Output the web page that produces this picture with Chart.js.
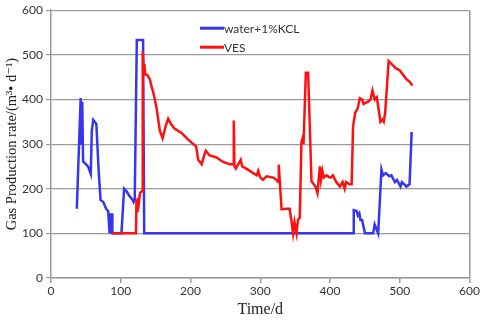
<!DOCTYPE html>
<html>
<head>
<meta charset="utf-8">
<script src="https://cdn.jsdelivr.net/npm/chart.js@4"></script>
<style>
  html, body { margin: 0; padding: 0; background: #fff; }
  #wrap { width: 481px; height: 322px; }
</style>
</head>
<body>
<div id="wrap"><canvas id="myChart" width="481" height="322"></canvas></div>
<script>
let xTicks = [0, 100, 200, 300, 400, 500, 600];
let yTicks = [0, 100, 200, 300, 400, 500, 600];

let blueLabel = "water+1%KCL";
let blueT = [37, 42.5, 43.5, 44.8, 46, 50, 53, 57, 58.5, 60.6, 65, 68, 71, 75, 79, 82, 84, 85, 86, 87.5, 88,
  101, 104.8, 108, 112, 117, 118.5, 120, 123, 132, 133.6, 433, 434, 438, 440, 442, 443.7, 446, 450,
  461.8, 464, 469, 473.7, 476, 480, 485, 488, 493, 496, 501, 503, 509.6, 514, 517];
let blueY = [155, 403, 298, 395, 261, 255, 250, 233, 330, 354, 345, 250, 175, 170, 155, 150, 100, 145, 100, 145, 100,
  100, 200, 195, 185, 175, 170, 175, 533, 533, 100, 100, 152, 150, 140, 145, 130, 130, 100,
  100, 120, 100, 243, 230, 235, 228, 230, 215, 220, 205, 215, 205, 210, 327];

let redLabel = "VES";
let redT = [88, 121.8, 122.5, 123.5, 124.2, 125, 127.5, 130.8, 131.5, 133, 133.8, 135, 138, 141.8, 144, 147.6,
  151.4, 156, 160, 164.5, 168, 172, 177, 187, 196.7, 204, 208, 211, 216, 220.6, 222, 227, 237, 246.8,
  256, 261, 262, 263, 265, 272, 274, 280, 285, 290, 295, 297, 300, 304, 309, 318.5, 323, 325.6, 326.5,
  328, 330.5, 338, 342, 344.5, 347, 349, 352, 354, 356.6, 359, 361, 362, 365.3, 368.6, 373.4, 379, 382,
  385.4, 387, 389, 391, 395, 399.7, 401, 404, 409, 414, 418, 421, 423, 428, 431, 433, 436, 439.6, 442.7,
  446, 448, 454.6, 458, 460.8, 464, 467, 472.3, 475, 477, 479, 484, 488, 494, 500, 505, 509.6, 514, 518];
let redY = [100, 100, 175, 150, 180, 155, 190, 195, 508, 460, 480, 456, 455, 445, 430, 410,
  380, 330, 313, 341, 357, 345, 335, 325, 310, 300, 295, 265, 255, 280, 285, 275, 270, 260,
  255, 255, 353, 250, 245, 265, 250, 245, 240, 235, 230, 240, 225, 220, 228, 225, 220, 215, 254,
  215, 154, 155, 155, 130, 100, 125, 100, 130, 135, 305, 315, 300, 460, 460, 217, 205, 190,
  250, 220, 240, 225, 230, 225, 225, 230, 215, 205, 215, 200, 215, 210, 210, 340, 370, 380, 403,
  400, 390, 395, 400, 420, 400, 405, 350, 355, 350, 370, 486, 480, 470, 465, 455, 445, 440, 431];

let blueColor = "#3636f0";
let redColor = "#ff1010";
let gridColor = "#9a9a9a";
let tickFont = { family: "Lato, 'Open Sans', sans-serif", size: 12 };
let titleFont = { family: "'Liberation Serif', 'DejaVu Serif', serif", size: 16 };

function toPoints(t, v) {
  return t.map((x, i) => ({ x: x, y: v[i] }));
}

// legend drawn inside the plot, like the original
const innerLegend = {
  id: "innerLegend",
  afterDraw(chart) {
    const c = chart.ctx;
    const area = chart.chartArea;
    const x0 = area.left + 149;
    const y0 = area.top + 18;
    c.save();
    c.font = "12px Lato, 'Open Sans', sans-serif";
    c.textBaseline = "middle";
    chart.data.datasets.forEach((ds, i) => {
      const y = y0 + i * 19;
      c.strokeStyle = ds.borderColor;
      c.lineWidth = 3;
      c.beginPath();
      c.moveTo(x0, y);
      c.lineTo(x0 + 24, y);
      c.stroke();
      c.fillStyle = "#333";
      c.fillText(ds.label, x0 + 24, y + 1);
    });
    c.restore();
  },
};

var ctx = document.getElementById("myChart");

var myChart = new Chart(ctx, {
  type: "line",
  data: {
    datasets: [
      {
        label: blueLabel,
        data: toPoints(blueT, blueY),
        borderColor: blueColor,
        backgroundColor: blueColor,
        borderWidth: 2.5,
        pointRadius: 0,
        tension: 0,
        order: 2,
      },
      {
        label: redLabel,
        data: toPoints(redT, redY),
        borderColor: redColor,
        backgroundColor: redColor,
        borderWidth: 2.5,
        pointRadius: 0,
        tension: 0,
        order: 1,
      },
    ],
  },
  plugins: [innerLegend],
  options: {
    responsive: false,
    animation: false,
    layout: { padding: { top: 7, right: 11, left: 0, bottom: 0 } },
    plugins: {
      legend: { display: false },
      tooltip: { enabled: false },
    },
    scales: {
      x: {
        type: "linear",
        min: 0,
        max: 600,
        afterBuildTicks: (axis) => { axis.ticks = xTicks.map((v) => ({ value: v })); },
        afterFit: (axis) => { axis.height = 44; },
        border: { color: gridColor, width: 1.5 },
        ticks: { color: "#333", font: tickFont, padding: 1 },
        grid: {
          color: (c) => (c.tick && c.tick.value === 600 ? gridColor : "transparent"),
          tickColor: gridColor,
          tickLength: 5,
          lineWidth: 1.5,
        },
        title: {
          display: true,
          text: "Time/d",
          color: "#222",
          font: titleFont,
          padding: { top: 0, bottom: 3 },
        },
      },
      y: {
        min: 0,
        max: 600,
        afterBuildTicks: (axis) => { axis.ticks = yTicks.map((v) => ({ value: v })); },
        afterFit: (axis) => { axis.width = 51; },
        border: { color: gridColor, width: 1.5 },
        ticks: { color: "#333", font: tickFont, padding: 3 },
        grid: {
          color: gridColor,
          tickColor: gridColor,
          tickLength: 5,
          lineWidth: 1.2,
        },
        title: {
          display: true,
          text: "Gas Production rate/(m³• d⁻¹)",
          color: "#222",
          font: { family: titleFont.family, size: 14.5 },
          padding: { top: 3, bottom: 0 },
        },
      },
    },
  },
});
</script>
</body>
</html>
